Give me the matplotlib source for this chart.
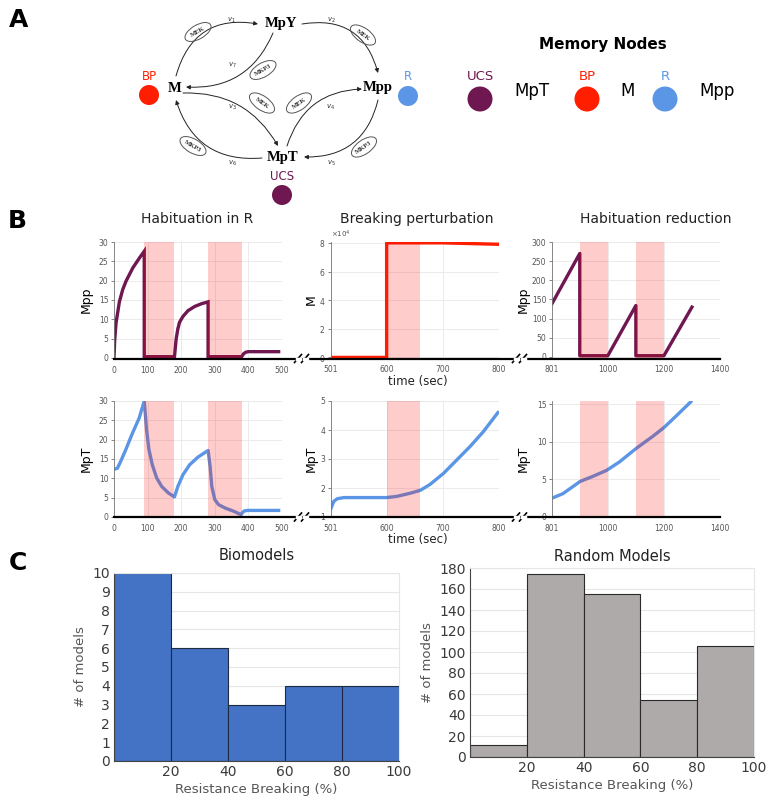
import matplotlib
matplotlib.use('Agg')
import matplotlib.pyplot as plt
from matplotlib.patches import Circle, Ellipse, FancyArrowPatch
from matplotlib.lines import Line2D

# ---------------- data ----------------
# Panel B, top-left: Mpp, habituation in R
t_hab = [0, 2, 6, 16, 26, 36, 56, 76, 90, 90, 180, 185, 190, 195, 205, 220, 240, 260, 280, 280, 380, 385, 392, 400, 490]
mpp_hab = [0, 4.5, 9.0, 14.5, 17.7, 19.9, 23.3, 25.9, 27.6, 0.3, 0.3, 4.9, 7.5, 9.2, 10.7, 12.2, 13.3, 14.0, 14.5, 0.3, 0.3, 1.0, 1.45, 1.6, 1.6]
# Panel B, bottom-left: MpT, habituation in R
t_hab2 = [2, 10, 20, 35, 55, 75, 90, 97, 104, 114, 127, 142, 162, 180, 190, 205, 225, 250, 280, 286, 291, 300, 311, 331, 356, 378, 386, 396, 490]
mpt_hab = [12.4, 12.6, 14.4, 17.4, 21.7, 25.6, 30.0, 22.5, 17.4, 13.5, 10.1, 7.9, 6.2, 5.2, 7.9, 10.9, 13.5, 15.5, 17.2, 13.1, 7.9, 4.5, 3.2, 2.3, 1.5, 0.6, 1.5, 1.7, 1.7]
# Panel B, top-middle: M, breaking perturbation
t_brk = [501, 600, 600, 700, 800]
m_brk = [0, 0, 80000, 80000, 79000]
# Panel B, bottom-middle: MpT, breaking perturbation
t_brk2 = [501, 506, 512, 524, 560, 600, 618, 642, 660, 677, 701, 725, 748, 772, 798]
mpt_brk = [1.30, 1.54, 1.63, 1.67, 1.67, 1.67, 1.71, 1.82, 1.92, 2.12, 2.50, 2.97, 3.42, 3.94, 4.60]
# Panel B, top-right: Mpp, habituation reduction
t_red = [801, 900, 900, 1000, 1100, 1100, 1200, 1300]
mpp_red = [139, 270, 3, 3, 134, 3, 3, 130]
# Panel B, bottom-right: MpT, habituation reduction
t_red2 = [801, 840, 893, 900, 947, 996, 1041, 1101, 1160, 1201, 1249, 1296]
mpt_red = [2.5, 3.1, 4.5, 4.7, 5.4, 6.2, 7.3, 9.1, 10.7, 11.9, 13.6, 15.3]
# stimulus windows
win_hab = [(90, 180), (280, 380)]
win_brk = [(600, 660)]
win_red = [(900, 1000), (1100, 1200)]
# tick labels
xt_hab = [0, 100, 200, 300, 400, 500]
xt_brk = [501, 600, 700, 800]
xt_red = [801, 1000, 1200, 1400]

# Panel C histograms
bin_edges = [0, 20, 40, 60, 80, 100]
bio_counts = [10, 6, 3, 4, 4]
rand_counts = [11, 174, 155, 54, 106]

# ---------------- colors ----------------
PURPLE = '#6E1750'
RED = '#FF1E00'
BLUE = '#5B96E6'
SHADE = 'red'

W, H = 774, 800
fig = plt.figure(figsize=(W / 100, H / 100), dpi=100)
plt.rcParams['font.family'] = ['DejaVu Sans']


def ax_px(x0, y0, x1, y1):
    return fig.add_axes([x0 / W, 1 - y1 / H, (x1 - x0) / W, (y1 - y0) / H])


def style_b(ax, xlim, ylim, xticks, yticks):
    ax.set_xlim(*xlim)
    ax.set_ylim(*ylim)
    ax.set_xticks(xticks)
    ax.set_yticks(yticks)
    for s in ['top', 'right', 'bottom']:
        ax.spines[s].set_visible(False)
    ax.spines['left'].set_color('#777777')
    ax.spines['left'].set_linewidth(0.6)
    ax.grid(True, color='#E8E8E8', lw=0.6)
    ax.set_axisbelow(True)
    ax.tick_params(labelsize=5.5, colors='#555555', length=2, width=0.5, pad=2)
    ax.tick_params(axis='x', length=0, pad=5)


# ---- top row ----
a1 = ax_px(114, 242, 282, 359)
a1.plot(t_hab, mpp_hab, color=PURPLE, lw=2.4, solid_joinstyle='miter')
for w in win_hab:
    a1.axvspan(*w, color=SHADE, alpha=0.2, lw=0, zorder=3)
style_b(a1, (0, 500), (-0.3, 30), xt_hab, [0, 5, 10, 15, 20, 25, 30])

a2 = ax_px(331, 242, 499, 358)
a2.plot(t_brk, m_brk, color=RED, lw=2.4)
for w in win_brk:
    a2.axvspan(*w, color=SHADE, alpha=0.2, lw=0, zorder=3)
style_b(a2, (501, 800), (-400, 80600), xt_brk, [0, 20000, 40000, 60000, 80000])
a2.ticklabel_format(axis='y', style='sci', scilimits=(4, 4), useMathText=True)
a2.yaxis.get_offset_text().set_fontsize(5)
a2.yaxis.get_offset_text().set_color('#555555')

a3 = ax_px(552, 242, 720, 358)
a3.plot(t_red, mpp_red, color=PURPLE, lw=2.4)
for w in win_red:
    a3.axvspan(*w, color=SHADE, alpha=0.2, lw=0, zorder=3)
style_b(a3, (801, 1400), (-3, 300), xt_red, [0, 50, 100, 150, 200, 250, 300])

# ---- bottom row ----
b1 = ax_px(114, 401, 282, 517)
b1.plot(t_hab2, mpt_hab, color=BLUE, lw=2.4)
for w in win_hab:
    b1.axvspan(*w, color=SHADE, alpha=0.2, lw=0, zorder=3)
style_b(b1, (0, 500), (0, 30), xt_hab, [0, 5, 10, 15, 20, 25, 30])

b2 = ax_px(331, 401, 499, 517)
b2.plot(t_brk2, mpt_brk, color=BLUE, lw=2.4)
for w in win_brk:
    b2.axvspan(*w, color=SHADE, alpha=0.2, lw=0, zorder=3)
style_b(b2, (501, 800), (1, 5), xt_brk, [1, 2, 3, 4, 5])

b3 = ax_px(552, 401, 720, 517)
b3.plot(t_red2, mpt_red, color=BLUE, lw=2.4)
for w in win_red:
    b3.axvspan(*w, color=SHADE, alpha=0.2, lw=0, zorder=3)
style_b(b3, (801, 1400), (0, 15.4), xt_red, [0, 5, 10, 15])

# ---- panel C ----
def style_c(ax, ymax, yticks):
    ax.set_xlim(0, 100)
    ax.set_ylim(0, ymax)
    ax.set_xticks([20, 40, 60, 80, 100])
    ax.set_yticks(yticks)
    ax.grid(True, axis='y', color='#E6E6E6', lw=0.8)
    ax.set_axisbelow(True)
    for s in ['top', 'right']:
        ax.spines[s].set_color('#E6E6E6')
    for s in ['left', 'bottom']:
        ax.spines[s].set_color('#444444')
        ax.spines[s].set_linewidth(0.8)
    ax.tick_params(labelsize=10, colors='#3A3A3A', length=0, pad=3)
    ax.set_xlabel('Resistance Breaking (%)', fontsize=9.5, color='#555555', labelpad=3)
    ax.set_ylabel('# of models', fontsize=9.5, color='#555555', labelpad=4)


c1 = ax_px(114, 573, 399, 761)
c1.bar(bin_edges[:-1], bio_counts, width=20, align='edge', color='#4472C4',
       edgecolor='#1E2A40', lw=0.8)
style_c(c1, 10, list(range(0, 11)))
c1.set_title('Biomodels', fontsize=10.5, color='#222222', pad=9)

c2 = ax_px(470, 568, 754, 757)
c2.bar(bin_edges[:-1], rand_counts, width=20, align='edge', color='#AEAAAA',
       edgecolor='#2A2A2A', lw=0.8)
style_c(c2, 180, list(range(0, 181, 20)))
c2.set_title('Random Models', fontsize=10.5, color='#222222', pad=5)

# ---------------- overlay (pixel coords) ----------------
ov = fig.add_axes([0, 0, 1, 1])
ov.set_xlim(0, W)
ov.set_ylim(H, 0)
ov.axis('off')
ov.patch.set_visible(False)

# panel letters
for lab, (x, y) in {'A': (19, 20), 'B': (17, 221), 'C': (18, 563)}.items():
    ov.text(x, y, lab, fontsize=18, fontweight='bold', ha='center', va='center')

# Panel B titles and labels
for txt, x in [('Habituation in R', 197), ('Breaking perturbation', 417), ('Habituation reduction', 656)]:
    ov.text(x, 219, txt, fontsize=10, ha='center', va='center', color='#222222')
for y in (381, 540):
    ov.text(418, y, 'time (sec)', fontsize=8.5, ha='center', va='center', color='#222222')
for x, lab in [(86, 'Mpp'), (311, 'M'), (523, 'Mpp')]:
    ov.text(x, 300, lab, fontsize=9, rotation=90, ha='center', va='center')
for x, lab in [(86, 'MpT'), (311, 'MpT'), (523, 'MpT')]:
    ov.text(x, 459, lab, fontsize=9, rotation=90, ha='center', va='center')

# broken time axes
for y0 in (358.5, 517):
    ov.add_line(Line2D([114, 720], [y0, y0], color='black', lw=1.6))
    for xc in (298, 305, 516, 523):
        ov.add_line(Line2D([xc - 3.5, xc + 3.5], [y0 + 4, y0 - 4], color='black', lw=1.2))
        ov.add_line(Line2D([xc - 1.5, xc + 1.5], [y0, y0], color='white', lw=2.5))

# ---- Panel A: network diagram ----
SERIF = 'Liberation Serif'
nodes = {'MpY': (281, 24), 'M': (175, 88), 'Mpp': (378, 87), 'MpT': (283, 157)}
for name, (x, y) in nodes.items():
    ov.text(x, y, name, fontsize=10.5, fontweight='bold', family=SERIF, ha='center', va='center')

arrows = [((176, 76), (258, 24), -0.45),
          ((302, 24), (378, 73), -0.45),
          ((273, 33), (186, 87), -0.35),
          ((183, 93), (278, 146), -0.3),
          ((287, 146), (362, 89), -0.35),
          ((378, 100), (304, 157), -0.4),
          ((262, 158), (176, 100), -0.4)]
for a, b, r in arrows:
    ov.add_patch(FancyArrowPatch(a, b, connectionstyle=f'arc3,rad={r}', arrowstyle='-|>',
                                 mutation_scale=6, lw=0.7, color='#222222', shrinkA=0, shrinkB=0))

enzymes = [('MEK', 198, 32, 30), ('MEK', 363, 35, -35), ('MKP3', 263, 70, 30),
           ('MEK', 262, 103, -35), ('MEK', 299, 103, 35), ('MKP3', 193, 146, -30),
           ('MKP3', 364, 147, 35)]
for lab, x, y, rot in enzymes:
    ov.add_patch(Ellipse((x, y), 29, 14, angle=-rot, fill=False, ec='#555555', lw=0.7))
    ov.text(x, y, lab, fontsize=4.8, fontweight='bold', family=SERIF, rotation=rot,
            ha='center', va='center', color='#333333')

rates = [('1', 231, 20), ('2', 331, 20), ('7', 232, 65), ('3', 232, 107),
         ('4', 330, 107), ('5', 331, 163), ('6', 232, 163)]
for s, x, y in rates:
    ov.text(x, y, r'$v_{%s}$' % s, fontsize=5, ha='center', va='center', color='#333333')

for lab, col, x, ylab, yc in [('BP', RED, 149, 76, 95), ('R', BLUE, 408, 76, 96), ('UCS', PURPLE, 282, 176, 195)]:
    ov.text(x, ylab, lab, fontsize=8.5, color=col, ha='center', va='center')
    ov.add_patch(Circle((x, yc), 10, color=col, lw=0))

# Memory nodes legend
ov.text(603, 45, 'Memory Nodes', fontsize=11, fontweight='bold', ha='center', va='center')
for lab, col, xc, name, xn in [('UCS', PURPLE, 480, 'MpT', 532), ('BP', RED, 587, 'M', 628),
                               ('R', BLUE, 665, 'Mpp', 717)]:
    ov.text(xc, 77, lab, fontsize=9.5, color=col, ha='center', va='center')
    ov.add_patch(Circle((xc, 99), 12.5, color=col, lw=0))
    ov.text(xn, 91, name, fontsize=12, ha='center', va='center')

fig.savefig('out.png', dpi=100)
